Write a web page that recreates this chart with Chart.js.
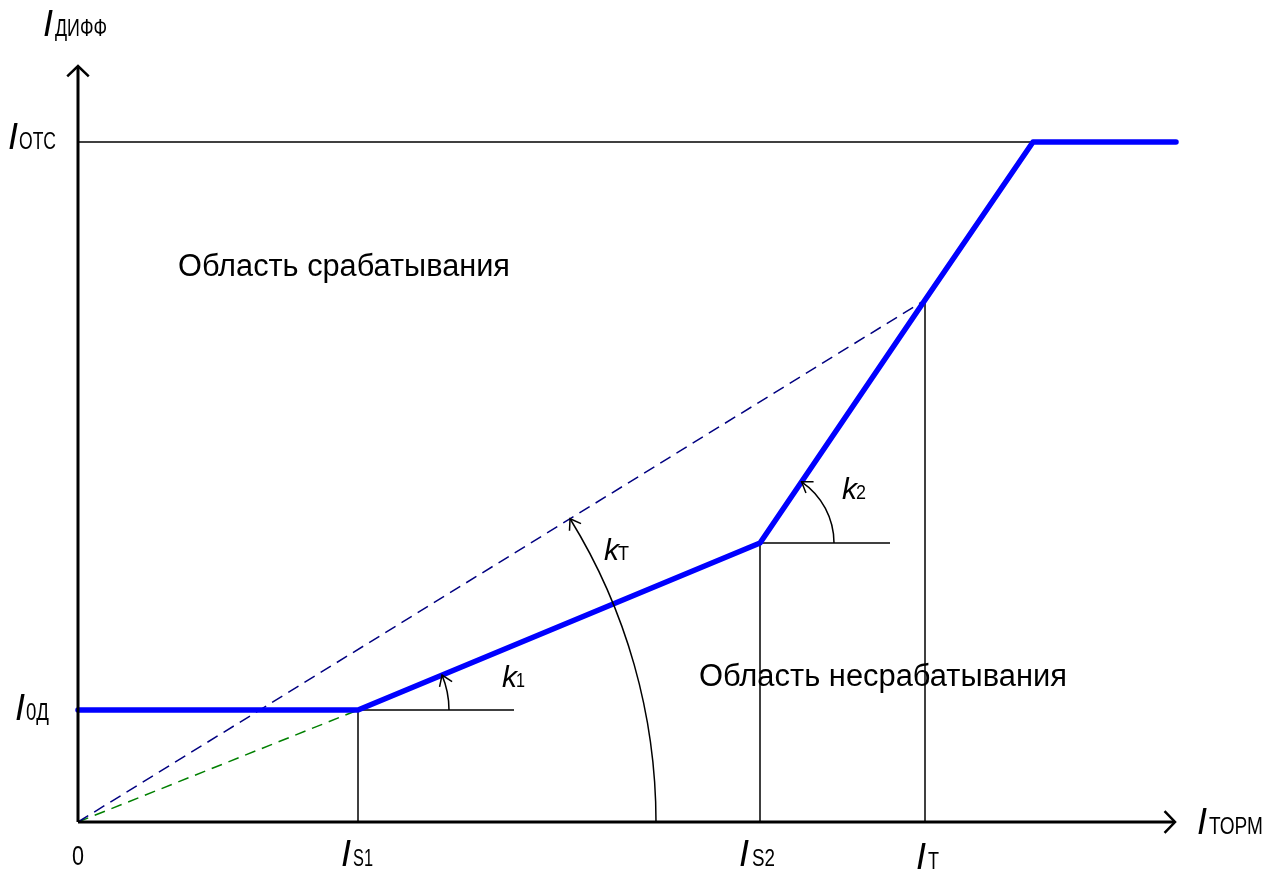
<!DOCTYPE html>
<html><head><meta charset="utf-8">
<script src="https://cdn.jsdelivr.net/npm/chart.js@4.4.1/dist/chart.umd.min.js"></script>
<style>html,body{margin:0;padding:0;background:#fff}</style>
</head><body>
<canvas id="c" width="1274" height="875" style="display:block"></canvas>
<script>
// ---- values (relative units) ----
const I0D = 1.12;          // начальный ток срабатывания
const IS1 = 2.80;          // первая точка излома
const IS2 = 6.82;          // вторая точка излома
const IS2Y = 2.79;         // уставка в точке IS2
const IT = 8.47;           // точка IT
const ITY = 5.22;          // уставка в точке IT
const IOTC = 6.80;         // ток отсечки
const charX = [0, 2.80, 6.82, 8.47, 9.55, 10.98];
const charY = [1.12, 1.12, 2.79, 5.22, 6.80, 6.80];
const otcX = [0, 9.55];
const k1RefEnd = 4.36;
const k2RefEnd = 8.12;
const xAxisEnd = 10.97;
const yAxisEnd = 7.56;
// tick / axis labels: [main italic letter, subscript]
const yTitle = ['I', 'ДИФФ'];
const xTitle = ['I', 'ТОРМ'];
const yTickLabels = [['I', 'ОТС'], ['I', '0Д']];
const xTickLabels = [['', '0'], ['I', 'S1'], ['I', 'S2'], ['I', 'Т']];
const slopeLabels = [['k', '1'], ['k', 'Т'], ['k', '2']];
const regionLabels = ['Область срабатывания', 'Область несрабатывания'];

const pts = (xs, ys) => xs.map((v, i) => ({x: v, y: ys[i]}));
const thin = {borderColor: '#000', borderWidth: 1.5, order: 5};

const datasets = [
  {data: pts(charX, charY), borderColor: '#0000ff', borderWidth: 5.5, order: 0, borderCapStyle: 'round', borderJoinStyle: 'round'},
  {data: pts(otcX, [IOTC, IOTC]), ...thin},
  {data: pts([IS1, IS1], [0, I0D]), ...thin},
  {data: pts([IS1, k1RefEnd], [I0D, I0D]), ...thin},
  {data: pts([IS2, IS2], [0, IS2Y]), ...thin},
  {data: pts([IS2, k2RefEnd], [IS2Y, IS2Y]), ...thin},
  {data: pts([IT, IT], [0, ITY]), ...thin},
  {data: pts([0, IT], [0, ITY]), borderColor: '#000080', borderWidth: 1.5, borderDash: [12, 7], order: 3},
  {data: pts([0, IS1], [0, I0D]), borderColor: '#008000', borderWidth: 1.5, borderDash: [11, 7], order: 3}
].map(d => Object.assign({showLine: true, pointRadius: 0, tension: 0, clip: false, fill: false}, d));

const FONT = '"Liberation Sans", Arial, sans-serif';

function fitText(ctx, s, x, yb, font, w) {
  ctx.font = font;
  const m = ctx.measureText(s).width;
  ctx.save();
  ctx.translate(x, yb);
  if (w && m > 0) ctx.scale(w / m, 1);
  ctx.fillText(s, 0, 0);
  ctx.restore();
}
function subLabel(ctx, parts, x, yb, subDx, subW, bigSize, subSize) {
  if (parts[0]) fitText(ctx, parts[0], x, yb, 'italic ' + bigSize + 'px ' + FONT);
  fitText(ctx, parts[1], x + subDx, yb, subSize + 'px ' + FONT, subW);
}
function vArrow(ctx, tx, ty, bx, by, len, spread) {
  const a = Math.atan2(by, bx);
  ctx.beginPath();
  ctx.moveTo(tx + len * Math.cos(a + spread), ty + len * Math.sin(a + spread));
  ctx.lineTo(tx, ty);
  ctx.lineTo(tx + len * Math.cos(a - spread), ty + len * Math.sin(a - spread));
  ctx.stroke();
}

const drawPlugin = {
  id: 'diagram',
  afterDatasetsDraw(chart) {
    const ctx = chart.ctx;
    const sx = chart.scales.x, sy = chart.scales.y;
    const X = v => sx.getPixelForValue(v), Y = v => sy.getPixelForValue(v);
    const ox = X(0), oy = Y(0);
    ctx.save();
    ctx.strokeStyle = '#000';
    ctx.fillStyle = '#000';
    ctx.lineCap = 'butt';
    // axes
    ctx.lineWidth = 3;
    ctx.beginPath();
    ctx.moveTo(ox, oy); ctx.lineTo(X(xAxisEnd), oy);
    ctx.moveTo(ox, oy); ctx.lineTo(ox, Y(yAxisEnd));
    ctx.stroke();
    ctx.lineWidth = 2.5;
    ctx.lineJoin = 'miter';
    vArrow(ctx, X(xAxisEnd), oy, -1, 0, 15, 0.8);
    vArrow(ctx, ox, Y(yAxisEnd), 0, 1, 15, 0.8);

    // slope arcs
    const arcs = [
      {c: [IS1, I0D], t: [IS2, IS2Y], r: 91},
      {c: [0, 0], t: [IT, ITY], r: 578},
      {c: [IS2, IS2Y], t: [IT, ITY], r: 74}
    ];
    ctx.lineWidth = 1.5;
    arcs.forEach(a => {
      const cx = X(a.c[0]), cy = Y(a.c[1]);
      const th = Math.atan2(cy - Y(a.t[1]), X(a.t[0]) - cx);
      ctx.beginPath();
      ctx.arc(cx, cy, a.r, 0, -th, true);
      ctx.stroke();
      const tx = cx + a.r * Math.cos(th), ty = cy - a.r * Math.sin(th);
      vArrow(ctx, tx, ty, Math.sin(th), Math.cos(th), 12, 0.6);
    });

    // labels
    ctx.textAlign = 'left';
    ctx.textBaseline = 'alphabetic';
    const B = 36, S = 23;
    subLabel(ctx, yTitle, ox - 35, 36, 12, 52, B, S);
    subLabel(ctx, xTitle, X(xAxisEnd) + 22, oy + 12, 12, 54, B, S);
    subLabel(ctx, yTickLabels[0], 8, Y(IOTC) + 7, 11, 37, B, S);
    subLabel(ctx, yTickLabels[1], 15, Y(I0D) + 10, 11, 23, B, S);
    fitText(ctx, xTickLabels[0][1], ox - 6, oy + 43, '27px ' + FONT, 12);
    subLabel(ctx, xTickLabels[1], X(IS1) - 17, oy + 44, 12, 20, B, S);
    subLabel(ctx, xTickLabels[2], X(IS2) - 21, oy + 44, 13, 23, B, S);
    subLabel(ctx, xTickLabels[3], X(IT) - 9, oy + 47, 12, 11, B, S);
    subLabel(ctx, slopeLabels[0], 502, 687, 14, 9, 30, 21);
    subLabel(ctx, slopeLabels[1], 604, 560, 14, 11, 30, 21);
    subLabel(ctx, slopeLabels[2], 842, 499, 14, 10, 30, 21);
    fitText(ctx, regionLabels[0], 178, 276, '31px ' + FONT, 332);
    fitText(ctx, regionLabels[1], 699, 686, '31px ' + FONT, 368);
    ctx.restore();
  }
};

new Chart(document.getElementById('c'), {
  type: 'scatter',
  data: {datasets},
  options: {
    responsive: false,
    animation: false,
    events: [],
    devicePixelRatio: 1,
    layout: {padding: {left: 78, right: 96, top: 62, bottom: 53}},
    scales: {
      x: {type: 'linear', min: 0, max: 11, display: false},
      y: {type: 'linear', min: 0, max: 7.6, display: false}
    },
    plugins: {legend: {display: false}, tooltip: {enabled: false}, title: {display: false}}
  },
  plugins: [drawPlugin]
});
</script>
</body></html>
